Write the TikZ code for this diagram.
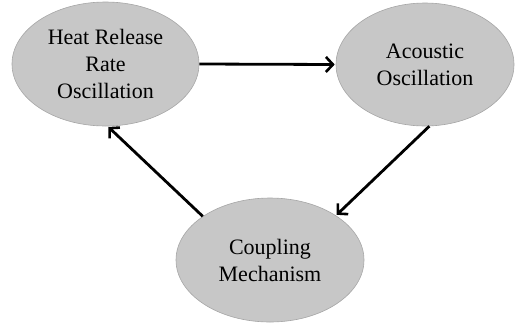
\documentclass[tikz,border=0pt]{standalone}
\usepackage{fontspec}
\setmainfont{Liberation Serif}
\usetikzlibrary{shapes.geometric,arrows.meta}
\begin{document}
\begin{tikzpicture}[x=1pt,y=1pt,
  bubble/.style={ellipse, fill=black!22, draw=black!35, line width=0.6pt,
    inner sep=0pt, align=center, font=\fontsize{22}{27}\selectfont},
  link/.style={line width=2.8pt, -{Straight Barb[length=7pt,width=15pt,line width=2.6pt]}, shorten >=1pt}]
\useasboundingbox (0,0) rectangle (516,-322);
\node[bubble, minimum width=187, minimum height=124] (heat) at (105.5,-64) {Heat Release\\Rate\\Oscillation};
\node[bubble, minimum width=178, minimum height=123] (acou) at (425,-64.5) {Acoustic\\Oscillation};
\node[bubble, minimum width=188, minimum height=124] (coup) at (270,-260) {Coupling\\Mechanism};
\draw[link] (heat.east) -- (acou.west);
\draw[link] (acou.-86) -- (coup.34);
\draw[link] (coup.147) -- (heat.-88);
\end{tikzpicture}
\end{document}
